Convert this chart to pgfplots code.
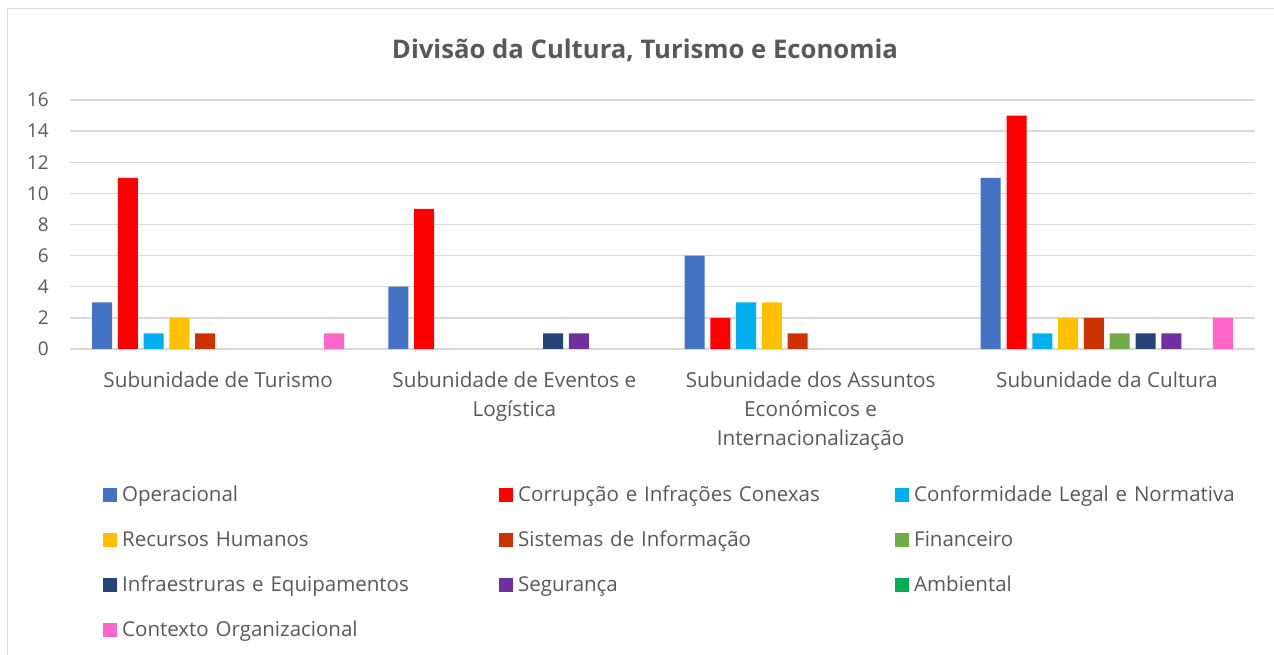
\documentclass[border=0pt]{standalone}
\usepackage{pgfplots}
\pgfplotsset{compat=1.18}
\usepackage{fontspec}
\setmainfont{Open Sans}
\definecolor{cOp}{HTML}{4472C4}
\definecolor{cCo}{HTML}{FF0000}
\definecolor{cCf}{HTML}{00B0F0}
\definecolor{cRH}{HTML}{FFC000}
\definecolor{cSI}{HTML}{CC3300}
\definecolor{cFi}{HTML}{70AD47}
\definecolor{cIn}{HTML}{264478}
\definecolor{cSe}{HTML}{7030A0}
\definecolor{cAm}{HTML}{00B050}
\definecolor{cCx}{HTML}{FF66CC}
\definecolor{txt}{HTML}{595959}
\definecolor{gridc}{HTML}{D9D9D9}
\begin{document}
\begin{tikzpicture}
\path[use as bounding box] (0,0) rectangle (1274bp,655bp);
\draw[draw=gridc, line width=1bp] (7bp,0) -- (7bp,646bp) -- (1274bp,646bp);
\node[font=\bfseries\fontsize{25.7bp}{30bp}\selectfont, text=txt, anchor=base] at (645bp,596bp) {Divisão da Cultura, Turismo e Economia};
\begin{axis}[
  at={(70bp,306bp)}, anchor=south west, scale only axis,
  width=1185bp, height=249bp,
  ymin=0, ymax=16, ytick={0,2,...,16},
  xmin=-0.5, xmax=3.5, xtick={0,1,2,3},
  xticklabels={{Subunidade de Turismo},{Subunidade de Eventos e\\Logística},{Subunidade dos Assuntos\\Económicos e\\Internacionalização},{Subunidade da Cultura}},
  ybar=5.8bp, bar width=20bp,
  axis line style={draw=none},
  major tick length=0pt,
  ymajorgrids, major grid style={draw=gridc, line width=1.3bp},
  /pgf/number format/assume math mode=true,
  yticklabel style={font=\fontsize{19bp}{22bp}\selectfont, text=txt, anchor=east, inner sep=0pt, xshift=-21bp},
  xticklabel style={font=\fontsize{20.7bp}{29bp}\selectfont, text=txt, align=center, anchor=north, inner sep=0pt, yshift=-23bp},
  legend columns=3,
  legend image code/.code={\fill[#1,draw=none] (0bp,-7bp) rectangle (14bp,7bp);},
  legend style={draw=none, fill=none, at={(axis description cs:0,0)}, anchor=north west,
    xshift=33bp, yshift=-123bp, inner sep=0pt, row sep=0pt,
    font=\fontsize{20.5bp}{24bp}\selectfont, text=txt,
    /tikz/every odd column/.append style={column sep=5bp},
    nodes={inner sep=0pt, minimum height=45bp, text width=377bp, align=left, anchor=west}},
  legend cell align=left,
]
\addplot[fill=cOp, draw=none] coordinates {(0,3) (1,4) (2,6) (3,11)};
\addlegendentry{Operacional}
\addplot[fill=cCo, draw=none] coordinates {(0,11) (1,9) (2,2) (3,15)};
\addlegendentry{Corrupção e Infrações Conexas}
\addplot[fill=cCf, draw=none] coordinates {(0,1) (1,0) (2,3) (3,1)};
\addlegendentry{Conformidade Legal e Normativa}
\addplot[fill=cRH, draw=none] coordinates {(0,2) (1,0) (2,3) (3,2)};
\addlegendentry{Recursos Humanos}
\addplot[fill=cSI, draw=none] coordinates {(0,1) (1,0) (2,1) (3,2)};
\addlegendentry{Sistemas de Informação}
\addplot[fill=cFi, draw=none] coordinates {(0,0) (1,0) (2,0) (3,1)};
\addlegendentry{Financeiro}
\addplot[fill=cIn, draw=none] coordinates {(0,0) (1,1) (2,0) (3,1)};
\addlegendentry{Infraestruras e Equipamentos}
\addplot[fill=cSe, draw=none] coordinates {(0,0) (1,1) (2,0) (3,1)};
\addlegendentry{Segurança}
\addplot[fill=cAm, draw=none] coordinates {(0,0) (1,0) (2,0) (3,0)};
\addlegendentry{Ambiental}
\addplot[fill=cCx, draw=none] coordinates {(0,1) (1,0) (2,0) (3,2)};
\addlegendentry{Contexto Organizacional}
\end{axis}
\end{tikzpicture}
\end{document}
